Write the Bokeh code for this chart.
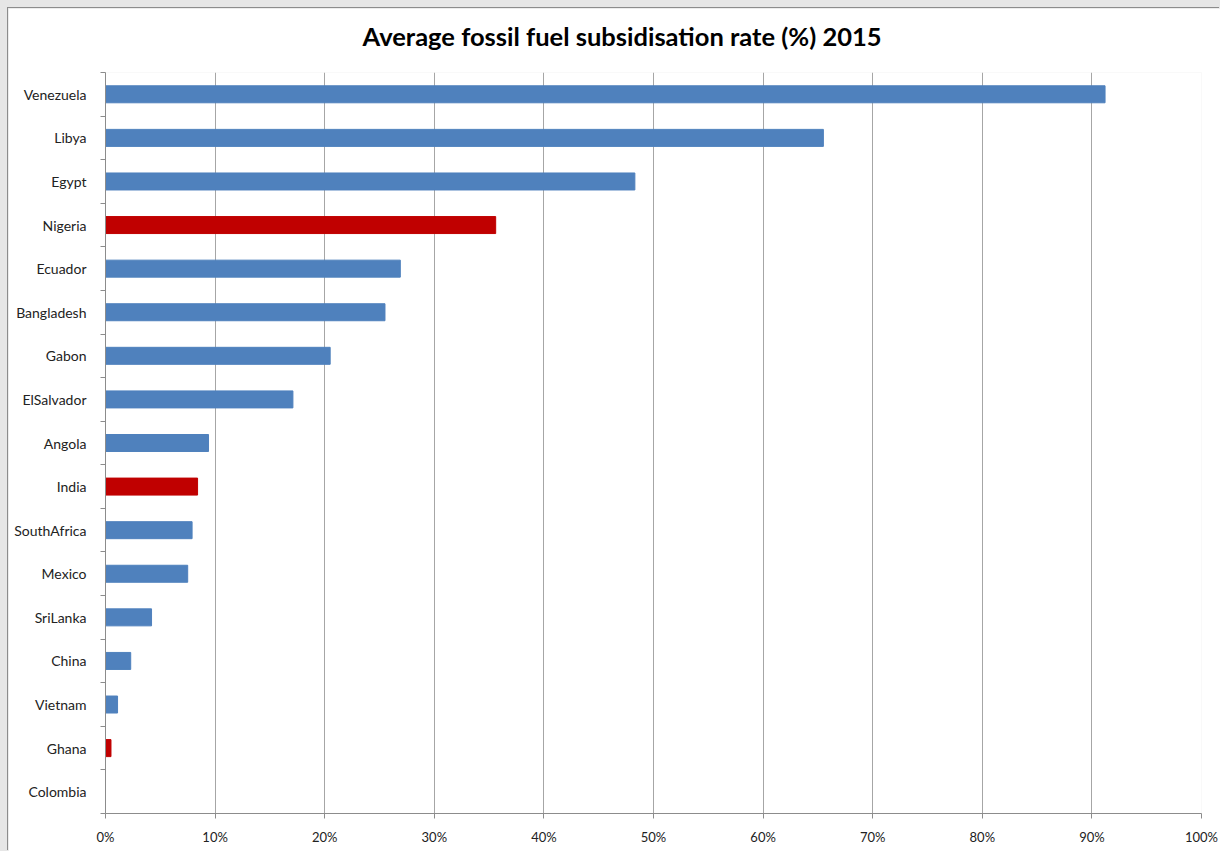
from bokeh.plotting import figure
from bokeh.models import FixedTicker, NumeralTickFormatter, Range1d, ColumnDataSource, Title
from bokeh.embed import file_html
from bokeh.resources import INLINE

title_text = "Average fossil fuel subsidisation rate (%) 2015"
countries = ["Venezuela", "Libya", "Egypt", "Nigeria", "Ecuador", "Bangladesh", "Gabon",
             "ElSalvador", "Angola", "India", "SouthAfrica", "Mexico", "SriLanka", "China",
             "Vietnam", "Ghana", "Colombia"]
rates = [0.912, 0.655, 0.483, 0.356, 0.269, 0.255, 0.205, 0.171, 0.094, 0.084, 0.079,
         0.075, 0.042, 0.023, 0.011, 0.005, 0.0]
highlighted = ["Nigeria", "India", "Ghana"]
x_ticks = [i / 10 for i in range(11)]

BLUE = "#4F81BD"
RED = "#C00000"
n = len(countries)
ypos = [n - i - 0.5 for i in range(n)]
colors = [RED if c in highlighted else BLUE for c in countries]
src = ColumnDataSource(dict(y=ypos, x=rates, c=colors, name=countries))

p = figure(width=1212, height=843, output_backend="svg", toolbar_location=None,
           x_range=Range1d(0, 1), y_range=Range1d(0, n),
           min_border_left=97, min_border_right=19, min_border_top=0, min_border_bottom=38)
p.margin = (8, 0, 0, 8)
p.styles = {"box-shadow": "-1px -1px 0 #8c8c8c"}
p.title = None
# small blank spacer between the frame and the title
p.add_layout(Title(text=" ", text_font_size="9px", standoff=0), "above")
t = Title(text=title_text, align="left", offset=257,
          text_font="Lato", text_font_size="25.5px", text_font_style="bold",
          text_color="#000000", standoff=20)
p.add_layout(t, "above")

p.hbar(y="y", right="x", left=0, height=0.39, fill_color="c", line_color="c",
       line_width=1, source=src)

p.outline_line_color = None
p.background_fill_color = "white"
p.border_fill_color = "white"

# x axis
p.xaxis.ticker = FixedTicker(ticks=x_ticks)
p.xaxis.formatter = NumeralTickFormatter(format="0%")
p.xaxis.axis_line_color = "#8c8c8c"
p.xaxis.major_tick_line_color = "#8c8c8c"
p.xaxis.major_tick_out = 5
p.xaxis.major_tick_in = 0
p.xaxis.minor_tick_line_color = None
p.xaxis.major_label_text_font = "Lato"
p.xaxis.major_label_text_font_size = "13px"
p.xaxis.major_label_text_color = "#222222"
p.xaxis.major_label_standoff = 10

# y axis
p.yaxis.ticker = FixedTicker(ticks=ypos, minor_ticks=list(range(n + 1)))
p.yaxis.major_label_overrides = {y: c for y, c in zip(ypos, countries)}
p.yaxis.axis_line_color = "#8c8c8c"
p.yaxis.major_tick_line_color = None
p.yaxis.major_tick_out = 0
p.yaxis.major_tick_in = 0
p.yaxis.minor_tick_line_color = "#8c8c8c"
p.yaxis.minor_tick_out = 5
p.yaxis.minor_tick_in = 0
p.yaxis.major_label_text_font = "Lato"
p.yaxis.major_label_text_font_size = "14px"
p.yaxis.major_label_text_color = "#222222"
p.yaxis.major_label_standoff = 14

p.xgrid.ticker = FixedTicker(ticks=x_ticks)
p.xgrid.grid_line_color = "#a6a6a6"
p.xgrid.grid_line_width = 1
p.ygrid.grid_line_color = None

html = file_html(p, INLINE)
css = ("<style>html, body {background:#e6e6e6 !important; margin:0 !important; "
       "overflow:hidden;}</style>")
html = html.replace("</head>", css + "</head>", 1)
open("out.html", "w").write(html)
